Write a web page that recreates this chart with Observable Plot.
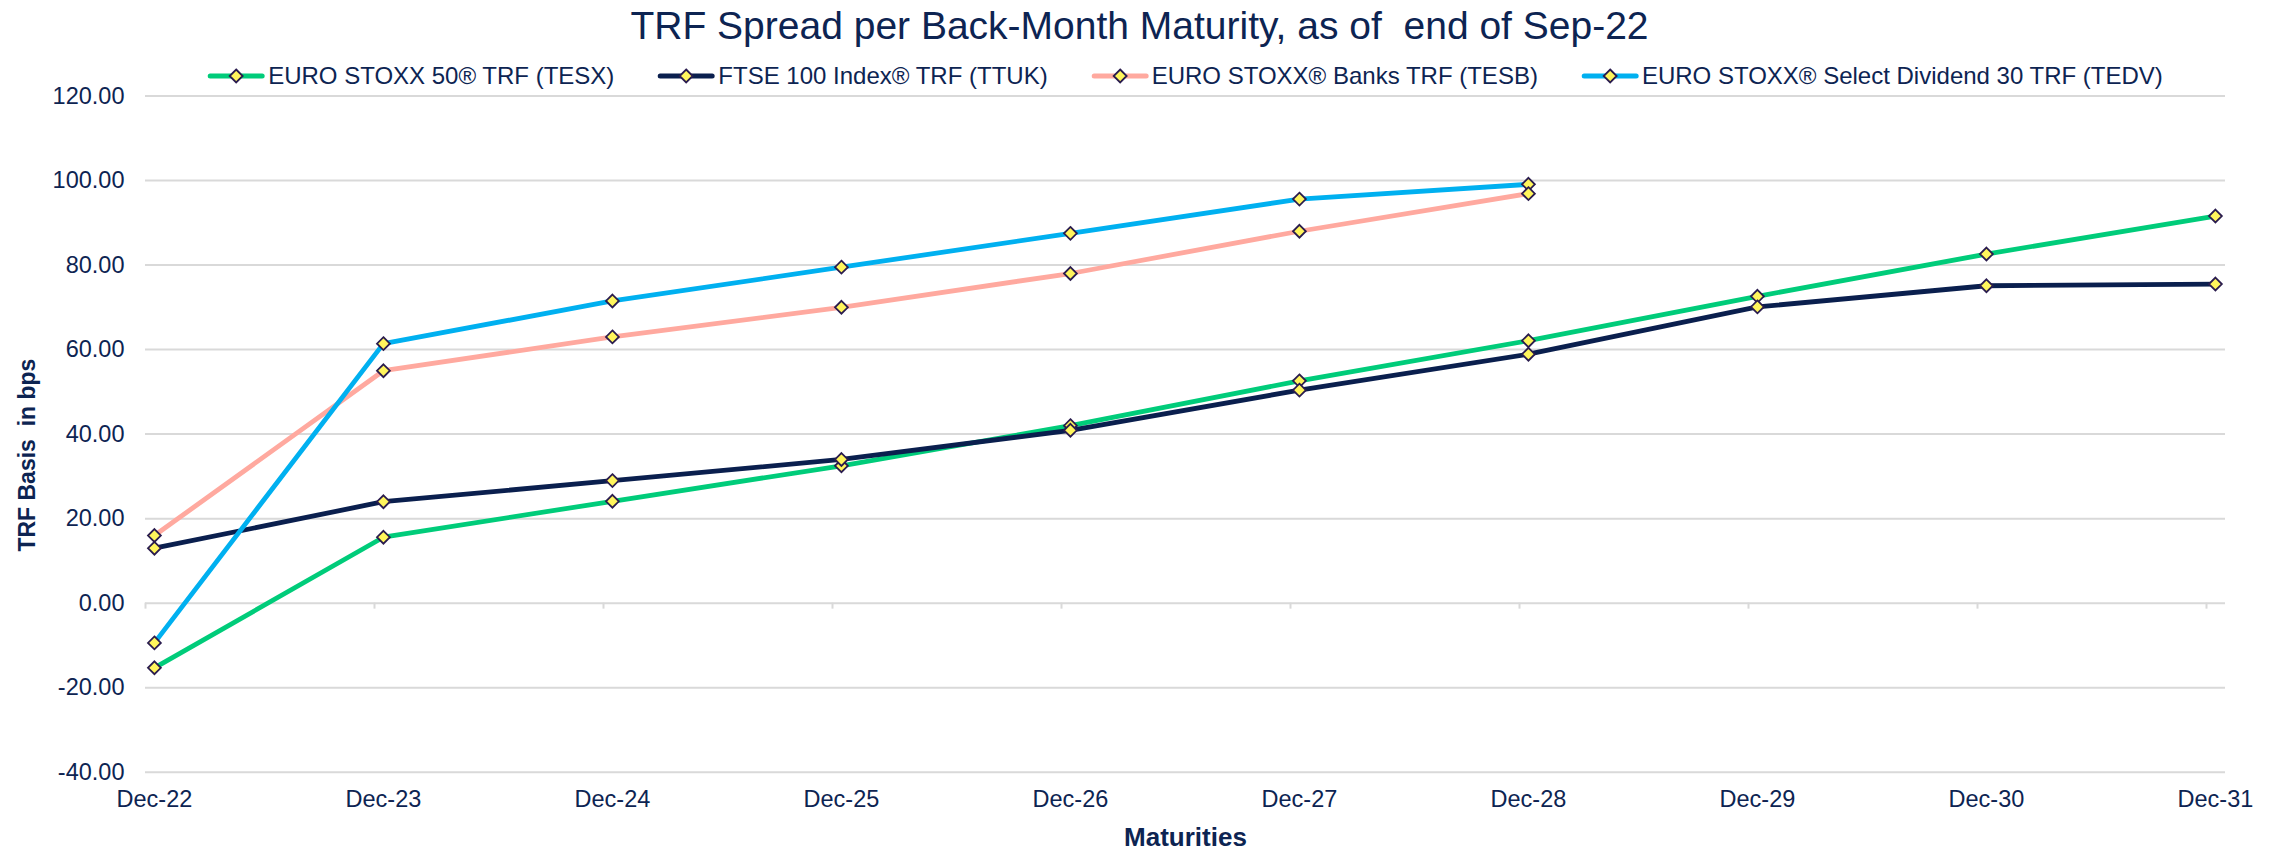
<!DOCTYPE html>
<html><head><meta charset="utf-8">
<script src="https://cdn.jsdelivr.net/npm/d3@7"></script>
<script src="https://cdn.jsdelivr.net/npm/@observablehq/plot@0.6"></script>
<style>
html,body{margin:0;padding:0;background:#fff;}
body{width:2279px;height:849px;overflow:hidden;font-family:"Liberation Sans",Arial,sans-serif;color:#0D2452;}
#header{position:relative;height:88px;width:2279px;}
#title{position:absolute;left:0;width:2279px;top:6px;text-align:center;font-size:39px;line-height:39px;white-space:pre;}
#legend{position:absolute;left:1185px;top:64px;transform:translateX(-50%);display:flex;gap:43px;white-space:nowrap;height:24px;align-items:center;}
.item{display:flex;align-items:center;font-size:24px;line-height:24px;}
.item svg{margin-right:3px;display:block;}
</style></head><body>
<div id="header"><div id="title"></div><div id="legend"></div></div>
<div id="chart"></div>
<script>
const titleText = "TRF Spread per Back-Month Maturity, as of  end of Sep-22";
const xTitle = "Maturities";
const yTitle = "TRF Basis\u00a0 in bps";
const categories = ["Dec-22","Dec-23","Dec-24","Dec-25","Dec-26","Dec-27","Dec-28","Dec-29","Dec-30","Dec-31"];
const seriesNames = ["EURO STOXX 50® TRF (TESX)","FTSE 100 Index® TRF (TTUK)","EURO STOXX® Banks TRF (TESB)","EURO STOXX® Select Dividend 30 TRF (TEDV)"];
const seriesColors = ["#00CC7A","#0A1F4E","#FFA99F","#00B0F0"];
const tesx = [-15.3, 15.6, 24.1, 32.5, 42.0, 52.6, 62.1, 72.6, 82.6, 91.6];
const ttuk = [13.0, 24.0, 29.0, 34.0, 40.9, 50.4, 58.9, 70.1, 75.1, 75.5];
const tesb = [16.0, 55.0, 63.0, 70.0, 78.0, 88.0, 96.9];
const tedv = [-9.4, 61.4, 71.5, 79.5, 87.5, 95.6, 99.1];
const yTicks = [-40, -20, 0, 20, 40, 60, 80, 100, 120];

const textColor = "#0D2452";
const markerFill = "#FFF55C";
const markerStroke = "#2A1C4E";

const seriesValues = [tesx, ttuk, tesb, tedv];
const rows = [];
seriesValues.forEach((vals, s) => vals.forEach((v, i) => rows.push({series: seriesNames[s], xi: i, value: v})));

document.getElementById("title").textContent = titleText;

// legend
const legend = document.getElementById("legend");
seriesNames.forEach((name, s) => {
  const item = document.createElement("div");
  item.className = "item";
  item.innerHTML = `<svg width="58" height="24" viewBox="0 0 58 24"><line x1="3" y1="12" x2="55" y2="12" stroke="${seriesColors[s]}" stroke-width="5" stroke-linecap="round"/><path d="M29 5.5 L35.5 12 L29 18.5 L22.5 12 Z" fill="${markerFill}" stroke="${markerStroke}" stroke-width="1.8"/></svg>`;
  const span = document.createElement("span");
  span.textContent = name;
  item.appendChild(span);
  legend.appendChild(item);
});

const lineOrder = [0, 2, 1, 3];
const dotOrder = [3, 2, 0, 1];

const chart = Plot.plot({
  width: 2279, height: 761,
  marginLeft: 145, marginRight: 54, marginTop: 7.5, marginBottom: 77.3,
  style: {fontFamily: "'Liberation Sans', Arial, sans-serif", fontSize: "23.5px", color: textColor, background: "white", overflow: "visible"},
  x: {type: "linear", domain: [-0.039, 9.044]},
  y: {domain: [-40, 120]},
  marks: [
    Plot.ruleY(yTicks, {stroke: "#D9D9D9", strokeWidth: 2, strokeOpacity: 1}),
    Plot.ruleX(categories.map((c, i) => i - 0.039), {x: d => d, y1: 0, y2: -1.42, stroke: "#D9D9D9", strokeWidth: 2, strokeOpacity: 1}),
    Plot.axisY({ticks: yTicks, tickSize: 0, tickPadding: 21, tickFormat: d => d.toFixed(2), label: null}),
    Plot.axisX({ticks: d3.range(categories.length), tickSize: 0, tickPadding: 18, tickFormat: i => categories[i], label: null}),
    ...lineOrder.map(s => Plot.line(rows.filter(r => r.series === seriesNames[s]), {x: "xi", y: "value", stroke: seriesColors[s], strokeWidth: 4.8, strokeLinejoin: "round"})),
    ...dotOrder.map(s => Plot.dot(rows.filter(r => r.series === seriesNames[s]), {x: "xi", y: "value", symbol: "diamond2", r: 5.8, fill: markerFill, stroke: markerStroke, strokeWidth: 1.8})),
    Plot.text([xTitle], {text: d => d, frameAnchor: "bottom", dy: 65, lineAnchor: "middle", textAnchor: "middle", fontWeight: "bold", fontSize: 26, fill: textColor}),
    Plot.text([yTitle], {text: d => d, frameAnchor: "left", rotate: -90, dx: -117.5, dy: 21, lineAnchor: "middle", textAnchor: "middle", fontWeight: "bold", fontSize: 23, fill: textColor})
  ]
});
document.getElementById("chart").appendChild(chart);
</script>
</body></html>
